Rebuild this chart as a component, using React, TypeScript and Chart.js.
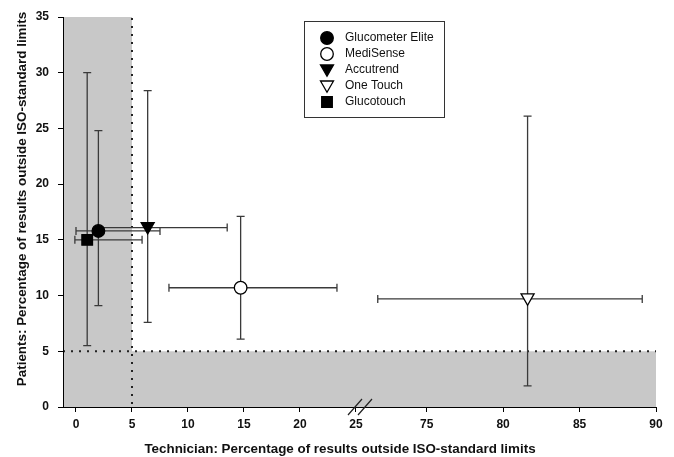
import { useEffect, useRef } from 'react';
import { Chart, registerables } from 'chart.js';
Chart.register(...registerables);

// ---------- data ----------
const devices = ['Glucometer Elite', 'MediSense', 'Accutrend', 'One Touch', 'Glucotouch'];
const techX = [2.0, 14.7, 6.4, 81.6, 1.0];
const techLow = [0.0, 8.3, 2.0, 71.8, -0.1];
const techHigh = [7.5, 23.3, 13.5, 89.1, 5.9];
const patY = [15.8, 10.7, 16.1, 9.7, 15.0];
const patLow = [9.1, 6.1, 7.6, 1.9, 5.5];
const patHigh = [24.8, 17.1, 28.4, 26.1, 30.0];
const xTickValues = [0, 5, 10, 15, 20, 25, 75, 80, 85, 90];
const yTickValues = [0, 5, 10, 15, 20, 25, 30, 35];
const isoLimit = 5;

// ---------- broken axis mapping ----------
const BREAK_FROM = 25;
const BREAK_TO = 75;
const GAP_UNITS = 6.31;
const RIGHT_STRETCH = 1.365;
const toAxis = (v: number) =>
  v <= (BREAK_FROM + BREAK_TO) / 2 ? v : BREAK_FROM + GAP_UNITS + (v - BREAK_TO) * RIGHT_STRETCH;

// ---------- styles ----------
type Marker = 'circle' | 'triangleDown' | 'rect';
const markers: Marker[] = ['circle', 'circle', 'triangleDown', 'triangleDown', 'rect'];
const filled = [true, false, true, false, true];
const FONT = '"Liberation Sans", Arial, sans-serif';
const GRAY = '#c8c8c8';
const BAR = '#3a3a3a';

function drawMarker(ctx: CanvasRenderingContext2D, m: Marker, x: number, y: number, fill: boolean) {
  ctx.save();
  ctx.beginPath();
  if (m === 'circle') {
    ctx.arc(x, y, 6.3, 0, Math.PI * 2);
  } else if (m === 'rect') {
    ctx.rect(x - 5.3, y - 5.3, 10.6, 10.6);
  } else {
    ctx.moveTo(x - 6.5, y - 5);
    ctx.lineTo(x + 6.5, y - 5);
    ctx.lineTo(x, y + 6.3);
    ctx.closePath();
  }
  ctx.fillStyle = fill ? '#000' : '#fff';
  ctx.fill();
  ctx.lineWidth = 1.3;
  ctx.strokeStyle = '#000';
  ctx.stroke();
  ctx.restore();
}

const backgroundPlugin = {
  id: 'bgRegions',
  beforeDraw(chart: any) {
    const { ctx, chartArea: a, scales } = chart;
    const x5 = scales.x.getPixelForValue(toAxis(isoLimit));
    const y5 = scales.y.getPixelForValue(isoLimit);
    ctx.save();
    ctx.fillStyle = '#fff';
    ctx.fillRect(0, 0, chart.width, chart.height);
    ctx.fillStyle = GRAY;
    ctx.fillRect(a.left, a.top, x5 - a.left, a.bottom - a.top);
    ctx.fillRect(a.left, y5, a.right - a.left, a.bottom - y5);
    ctx.strokeStyle = '#222';
    ctx.lineWidth = 2;
    ctx.setLineDash([2, 6]);
    ctx.beginPath();
    ctx.moveTo(x5, a.top + 1);
    ctx.lineTo(x5, a.bottom);
    ctx.moveTo(a.left, y5);
    ctx.lineTo(a.right, y5);
    ctx.stroke();
    ctx.restore();
  },
};

const errorBarPlugin = {
  id: 'errorBars',
  beforeDatasetsDraw(chart: any) {
    const { ctx, scales } = chart;
    const sx = scales.x, sy = scales.y;
    ctx.save();
    ctx.strokeStyle = BAR;
    ctx.lineWidth = 1.3;
    const cap = 4;
    devices.forEach((_, i) => {
      const cx = sx.getPixelForValue(toAxis(techX[i]));
      const cy = sy.getPixelForValue(patY[i]);
      const xl = sx.getPixelForValue(toAxis(techLow[i]));
      const xh = sx.getPixelForValue(toAxis(techHigh[i]));
      const yl = sy.getPixelForValue(patLow[i]);
      const yh = sy.getPixelForValue(patHigh[i]);
      ctx.beginPath();
      ctx.moveTo(cx, yl); ctx.lineTo(cx, yh);
      ctx.moveTo(cx - cap, yl); ctx.lineTo(cx + cap, yl);
      ctx.moveTo(cx - cap, yh); ctx.lineTo(cx + cap, yh);
      ctx.moveTo(xl, cy); ctx.lineTo(xh, cy);
      ctx.moveTo(xl, cy - cap); ctx.lineTo(xl, cy + cap);
      ctx.moveTo(xh, cy - cap); ctx.lineTo(xh, cy + cap);
      ctx.stroke();
    });
    ctx.restore();
  },
  afterDatasetsDraw(chart: any) {
    const { ctx, scales } = chart;
    devices.forEach((_, i) => {
      drawMarker(ctx, markers[i], scales.x.getPixelForValue(toAxis(techX[i])), scales.y.getPixelForValue(patY[i]), filled[i]);
    });
  },
};

const decorPlugin = {
  id: 'decor',
  afterDraw(chart: any) {
    const { ctx, chartArea: a, scales } = chart;
    ctx.save();
    // axis break marks
    const p25 = scales.x.getPixelForValue(toAxis(BREAK_FROM));
    const by = a.bottom;
    ctx.strokeStyle = '#222';
    ctx.lineWidth = 1.2;
    ctx.beginPath();
    [-1, 9].forEach((off) => {
      const c = p25 + off;
      ctx.moveTo(c - 7, by + 8);
      ctx.lineTo(c + 7, by - 8);
    });
    ctx.stroke();

    // axis titles
    ctx.fillStyle = '#111';
    ctx.font = `bold 13.4px ${FONT}`;
    ctx.textAlign = 'center';
    ctx.textBaseline = 'middle';
    ctx.fillText('Technician: Percentage of results outside ISO-standard limits', 340, 449);
    ctx.save();
    ctx.translate(22, 199);
    ctx.rotate(-Math.PI / 2);
    ctx.fillText('Patients: Percentage of results outside ISO-standard limits', 0, 0);
    ctx.restore();

    // legend
    const lx = 304, ly = 21, lw = 140, lh = 96;
    ctx.fillStyle = '#fff';
    ctx.fillRect(lx, ly, lw, lh);
    ctx.strokeStyle = '#333';
    ctx.lineWidth = 1;
    ctx.strokeRect(lx + 0.5, ly + 0.5, lw, lh);
    ctx.font = `12px ${FONT}`;
    ctx.textAlign = 'left';
    devices.forEach((name, i) => {
      const ry = ly + 17 + i * 16;
      drawMarker(ctx, markers[i], lx + 23, ry, filled[i]);
      ctx.fillStyle = '#111';
      ctx.fillText(name, lx + 41, ry);
    });
    ctx.restore();
  },
};

export default function App() {
  const ref = useRef<HTMLCanvasElement>(null);
  useEffect(() => {
    document.body.style.margin = '0';
    const chart = new Chart(ref.current!, {
      type: 'scatter',
      data: {
        datasets: devices.map((name, i) => ({
          label: name,
          data: [{ x: toAxis(techX[i]), y: patY[i] }],
          pointRadius: 0,
          pointHoverRadius: 0,
          showLine: false,
        })),
      },
      options: {
        responsive: false,
        animation: false,
        events: [],
        layout: { padding: { top: 17, right: 18, left: 0, bottom: 0 } },
        plugins: { legend: { display: false }, tooltip: { enabled: false } },
        scales: {
          x: {
            type: 'linear',
            min: -1.16,
            max: toAxis(90),
            afterFit: (s: any) => { s.height = 50; },
            afterBuildTicks: (s: any) => { s.ticks = xTickValues.map((v) => ({ value: toAxis(v) })); },
            ticks: {
              autoSkip: false,
              maxRotation: 0,
              padding: 5,
              color: '#111',
              font: { family: FONT, size: 12, weight: 'bold' },
              callback: (_v: any, i: number) => String(xTickValues[i]),
            },
            grid: { drawOnChartArea: false, drawTicks: true, tickLength: 5, color: '#000' },
            border: { display: true, color: '#000', width: 1 },
          },
          y: {
            type: 'linear',
            min: 0,
            max: 35,
            afterFit: (s: any) => { s.width = 63; },
            afterBuildTicks: (s: any) => { s.ticks = yTickValues.map((v) => ({ value: v })); },
            ticks: {
              padding: 9,
              color: '#111',
              font: { family: FONT, size: 12, weight: 'bold' },
            },
            grid: { drawOnChartArea: false, drawTicks: true, tickLength: 5, color: '#000' },
            border: { display: true, color: '#000', width: 1 },
          },
        },
      } as any,
      plugins: [backgroundPlugin, errorBarPlugin, decorPlugin],
    });
    return () => chart.destroy();
  }, []);
  return <canvas ref={ref} width={674} height={457} style={{ display: 'block', width: 674, height: 457 }} />;
}
